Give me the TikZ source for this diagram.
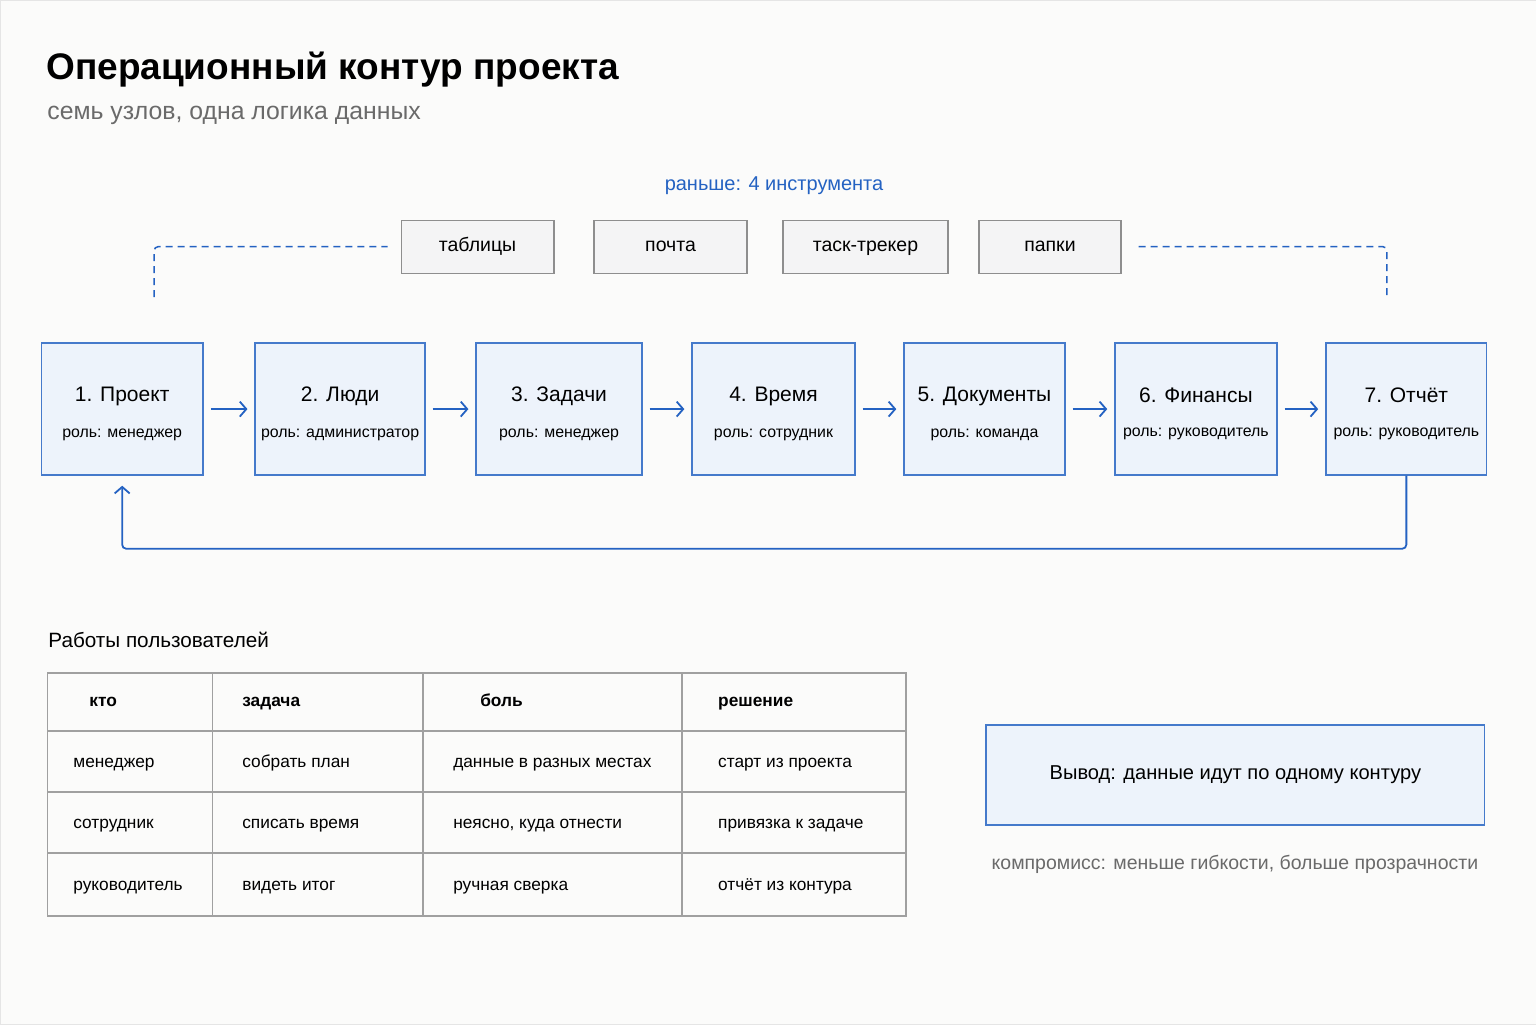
\documentclass[tikz,border=0pt]{standalone}
\usepackage{fontspec}
\setmainfont{Liberation Sans}
\usetikzlibrary{arrows.meta}

\definecolor{flowblue}{HTML}{2462C2}
\definecolor{boxfill}{HTML}{EDF3FB}
\definecolor{toolfill}{HTML}{F4F4F5}
\definecolor{toolline}{HTML}{8E8E8E}
\definecolor{gridline}{HTML}{A0A0A0}
\definecolor{paper}{HTML}{FBFBFA}
\definecolor{muted}{HTML}{6A6A6A}

\newcommand{\fs}[1]{\fontsize{#1}{#1}\selectfont}

\tikzset{
  stage/.style={draw=flowblue!85, fill=boxfill, line width=1.3pt,
    minimum height=132pt, align=center, inner sep=0pt},
  tool/.style={draw=toolline, fill=toolfill, line width=1.2pt,
    minimum height=53pt, font=\fs{19.5}, text height=14pt, text depth=4pt},
  flow/.style={flowblue, line width=1.8pt,
    -{Straight Barb[length=6.5pt,width=15pt]}},
  dashline/.style={flowblue, line width=1.5pt, dash pattern=on 7pt off 5pt,
    rounded corners=4pt},
  cell/.style={anchor=west, font=\fs{17.3}, inner sep=0pt,
    text height=13pt, text depth=4pt},
}

\begin{document}
\begin{tikzpicture}[x=1pt, y=-1pt]
  % Page
  \fill[paper, draw=gray!20] (0,0) rectangle (1536,1024);
  \useasboundingbox (0,0) rectangle (1536,1024);

  % Title
  \node[anchor=base west, inner sep=0pt, font=\fs{37}\bfseries] (title) at (46,79)
    {Операционный контур проекта};
  \node[anchor=base west, inner sep=0pt, font=\fs{24.8}, muted] (subtitle) at (47,119)
    {семь узлов, одна логика данных};

  % Old tools
  \node[flowblue, font=\fs{20}] (before) at (774,186) {раньше: 4 инструмента};
  \foreach \x/\w/\t [count=\i] in {477.5/153/таблицы, 670.5/153/почта,
      865.5/165/таск-трекер, 1050/142/папки}
    \node[tool, minimum width=\w pt] (t\i) at (\x,246.5) {\t};
  \coordinate (dl) at (154,297);
  \coordinate (dr) at (1387,297);
  \draw[dashline] (dl) |- ([xshift=-13pt]t1.west);
  \draw[dashline] ([xshift=17pt]t4.east) -| (dr);

  % Seven stages
  \foreach \x/\w/\t/\r [count=\i] in {
      122/162/1. Проект/менеджер,
      340/170/2. Люди/администратор,
      559/166/3. Задачи/менеджер,
      773.5/163/4. Время/сотрудник,
      984.5/161/5. Документы/команда,
      1196/162/6. Финансы/руководитель,
      1406.5/161/7. Отчёт/руководитель}
    \node[stage, minimum width=\w pt] (n\i) at (\x,409)
      {\fs{21}\rule{0pt}{24pt}\t\\[22pt]\fs{15.9}роль: \r};
  \foreach \i [evaluate=\i as \j using int(\i+1)] in {1,...,6}
    \draw[flow] ([xshift=7pt]n\i.east) -- ([xshift=-7pt]n\j.west);
  % Feedback loop
  \draw[flow, rounded corners=4pt] (n7.south) -- ++(0,73)
    -| ([yshift=-10pt]n1.south);

  % Table
  \node[anchor=base west, inner sep=0pt, font=\fs{20.7}] (tabtitle) at (48,647)
    {Работы пользователей};
  \draw[gridline, line width=1.2pt] (47,673) rectangle (906,916);
  \foreach \y in {731,792,853}
    \draw[gridline, line width=1.2pt] (47,\y) -- (906,\y);
  \foreach \x in {212,423,682}
    \draw[gridline, line width=1.2pt] (\x,673) -- (\x,916);
  \foreach \x/\t [count=\c] in {89/кто, 242/задача, 480/боль, 718/решение}
    \node[cell, font=\fs{17.3}\bfseries] (h\c) at (\x,702) {\t};
  \foreach \y/\a/\b/\cc/\d [count=\r] in {
      763/менеджер/собрать план/данные в разных местах/старт из проекта,
      824/сотрудник/списать время/{неясно, куда отнести}/привязка к задаче,
      886/руководитель/видеть итог/ручная сверка/отчёт из контура} {
    \node[cell] (r\r-1) at (73,\y) {\a};
    \node[cell] (r\r-2) at (242,\y) {\b};
    \node[cell] (r\r-3) at (453,\y) {\cc};
    \node[cell] (r\r-4) at (718,\y) {\d};
  }

  % Conclusion
  \node[draw=flowblue!85, fill=boxfill, line width=1.3pt, minimum width=499pt,
    minimum height=100pt, font=\fs{20.1}] (concl) at (1235.5,775)
    {Вывод: данные идут по одному контуру};
  \node[muted, font=\fs{19.5}] (trade) at (1235,864)
    {компромисс: меньше гибкости, больше прозрачности};
\end{tikzpicture}
\end{document}
